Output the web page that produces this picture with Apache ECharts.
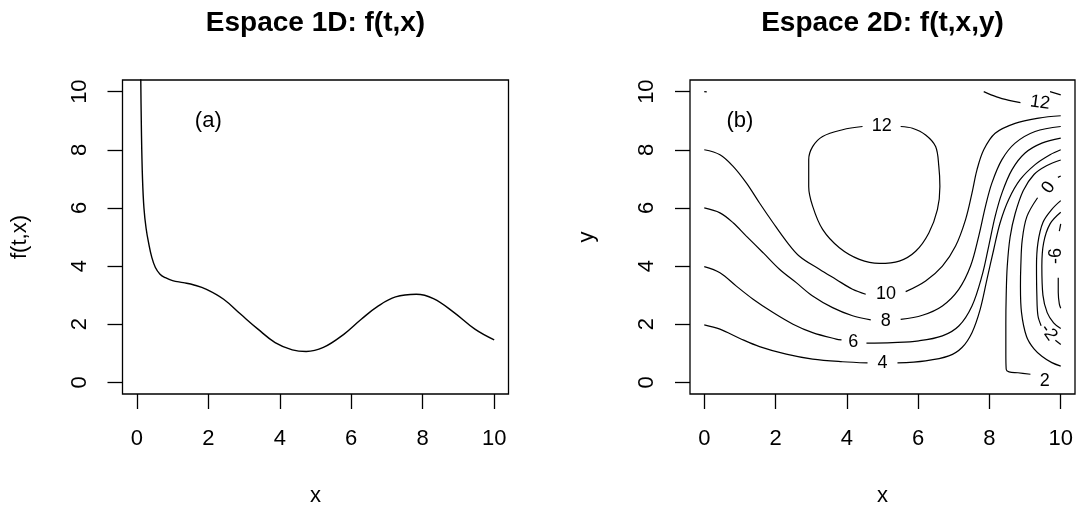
<!DOCTYPE html>
<html><head><meta charset="utf-8">
<script src="https://cdn.jsdelivr.net/npm/echarts@6/dist/echarts.min.js"></script>
<style>html,body{margin:0;padding:0;background:#fff}#c{width:1077px;height:513px}</style>
</head><body><div id="c"></div>
<script>
// ---------- data ----------
const xTicks = [0, 2, 4, 6, 8, 10];
const yTicks = [0, 2, 4, 6, 8, 10];

// Panel (a): f(t,x) against x
const curveX = [0.10, 0.11, 0.13, 0.16, 0.20, 0.26, 0.33, 0.42, 0.52, 0.65, 0.80, 1.00, 1.30, 1.60, 1.95, 2.43, 2.91, 3.39, 3.87, 4.35, 4.74, 5.22, 5.80, 6.28, 6.76, 7.24, 7.82, 8.30, 8.88, 9.46, 10.0];
const curveF = [12.0, 10.6, 8.6, 7.0, 6.0, 5.3, 4.8, 4.3, 3.95, 3.72, 3.6, 3.5, 3.43, 3.35, 3.2, 2.86, 2.34, 1.83, 1.37, 1.12, 1.06, 1.2, 1.66, 2.17, 2.63, 2.94, 3.03, 2.88, 2.4, 1.83, 1.46];

// Panel (b): contour lines of f(t,x,y), one list of segments per level (x, y in data units)
const level12 = [
  [[5.51,8.80],[5.84,8.74],[6.21,8.51],[6.49,8.11],[6.58,7.43],[6.61,6.74],[6.54,5.94],[6.30,5.14],[5.93,4.51],[5.47,4.17],[4.91,4.09],[4.35,4.23],[3.79,4.63],[3.32,5.26],[3.04,6.06],[2.93,6.74],[2.93,7.66],[3.04,8.11],[3.32,8.46],[3.88,8.69],[4.44,8.80]],
  [[7.84,10.0],[8.20,9.82],[8.55,9.70],[8.87,9.62]],
  [[9.70,10.0],[10.0,9.89]],
  [[0.0,10.0],[0.07,9.99]]
];
const level10 = [
  [[0,8.0],[0.44,7.83],[0.81,7.43],[1.18,6.86],[1.55,6.17],[1.93,5.49],[2.30,4.86],[2.67,4.34],[3.23,3.89],[3.70,3.54],[4.16,3.20],[4.53,3.03]],
  [[5.65,3.12],[6.21,3.49],[6.68,4.0],[7.05,4.69],[7.33,5.6],[7.51,6.51],[7.65,7.31],[7.84,8.0],[8.16,8.57],[8.72,8.91],[9.38,9.09],[10,9.17]]
];
const level8 = [
  [[0,6.0],[0.44,5.83],[0.81,5.49],[1.18,5.03],[1.65,4.46],[2.11,3.89],[2.58,3.43],[3.04,2.97],[3.60,2.57],[4.16,2.29],[4.67,2.15]],
  [[5.51,2.17],[6.12,2.31],[6.68,2.63],[7.14,3.2],[7.47,4.0],[7.70,5.03],[7.89,6.06],[8.07,6.86],[8.35,7.66],[8.72,8.23],[9.28,8.63],[10,8.8]]
];
const level6 = [
  [[0,3.98],[0.44,3.77],[0.90,3.31],[1.37,2.86],[1.93,2.40],[2.49,2.0],[3.04,1.71],[3.70,1.49],[3.85,1.46]],
  [[4.55,1.35],[5.28,1.37],[6.02,1.43],[6.68,1.6],[7.14,1.94],[7.51,2.63],[7.79,3.66],[7.98,4.69],[8.16,5.71],[8.35,6.51],[8.63,7.31],[9.0,7.89],[9.47,8.23],[10,8.4]]
];
const level4 = [
  [[0,1.98],[0.44,1.83],[1.0,1.51],[1.55,1.23],[2.30,0.97],[3.04,0.80],[3.88,0.71],[4.58,0.67]],
  [[5.42,0.67],[6.21,0.74],[6.86,0.91],[7.23,1.2],[7.51,1.71],[7.74,2.51],[7.93,3.54],[8.12,4.57],[8.30,5.49],[8.54,6.29],[8.86,6.97],[9.28,7.49],[9.70,7.83],[10,8.0]]
];
const level2 = [
  [[9.15,0.28],[8.8,0.33],[8.55,0.36],[8.47,0.45],[8.46,1.0],[8.46,2.0],[8.47,3.0],[8.50,4.0],[8.58,5.0],[8.72,5.8],[8.95,6.6],[9.25,7.15],[9.6,7.45],[10,7.65]]
];
const level0 = [
  [[9.92,7.05],[10,7.1]],
  [[9.35,6.35],[9.05,5.7],[8.92,4.9],[8.88,4.0],[8.87,3.3],[8.9,2.4],[9.04,1.58],[9.25,1.15],[9.47,0.9],[9.75,0.68],[10,0.56]]
];
const levelM2 = [
  [[10,6.25],[9.75,5.95],[9.5,5.5],[9.36,4.8],[9.32,4.0],[9.33,3.0],[9.36,2.3],[9.45,1.95]],
  [[9.85,1.45],[10,1.3]]
];
const levelM4 = [
  [[10,5.85],[9.7,5.45],[9.52,4.8],[9.47,4.0],[9.5,3.0],[9.62,2.4],[9.8,2.05],[10,1.85]]
];
const levelM6 = [
  [[10,5.45],[9.96,5.2]],
  [[9.93,3.6],[9.93,3.1],[9.96,2.7],[10,2.55]]
];
// contour labels: x, y, text, rotation (deg)
const contourLabels = [
  [4.98, 8.80, '12', 0],
  [9.42, 9.62, '12', -8],
  [5.10, 3.03, '10', 0],
  [5.09, 2.11, '8', 0],
  [4.18, 1.39, '6', 0],
  [5.00, 0.66, '4', 0],
  [9.55, 0.05, '2', 0],
  [9.66, 6.70, '0', 55],
  [9.86, 4.35, '-6', 90],
  [9.66, 1.72, '-2', -55]
];
const panelTags = [[2, 9, '(a)'], [1, 9, '(b)']];
const titles = ['Espace 1D: f(t,x)', 'Espace 2D: f(t,x,y)'];
const xNames = ['x', 'x'];
const yNames = ['f(t,x)', 'y'];

// ---------- chart ----------
const FONT = '"Liberation Sans", Arial, Helvetica, sans-serif';
const chart = echarts.init(document.getElementById('c'), null, {renderer: 'canvas'});
const grids = [
  {left: 122.5, top: 80, width: 386, height: 314},
  {left: 690, top: 80, width: 385, height: 314}
];
function xAx(i) {
  return {
    gridIndex: i, type: 'value', min: -0.4, max: 10.4,
    axisLine: {show: false, onZero: false},
    splitLine: {show: false},
    axisTick: {show: true, inside: false, length: 15, customValues: xTicks, lineStyle: {color: '#000', width: 1.3}},
    axisLabel: {customValues: xTicks, margin: 34, fontSize: 22, color: '#000', fontFamily: FONT},
    name: xNames[i], nameLocation: 'middle', nameGap: 91,
    nameTextStyle: {fontSize: 22, color: '#000', fontFamily: FONT}
  };
}
function yAx(i) {
  return {
    gridIndex: i, type: 'value', min: -0.4, max: 10.4,
    axisLine: {show: false, onZero: false},
    splitLine: {show: false},
    axisTick: {show: true, inside: false, length: 15, customValues: yTicks, lineStyle: {color: '#000', width: 1.3}},
    axisLabel: {customValues: yTicks, margin: 32, rotate: 90, fontSize: 22, color: '#000', fontFamily: FONT},
    name: yNames[i], nameLocation: 'middle', nameGap: 92,
    nameTextStyle: {fontSize: 22, color: '#000', fontFamily: FONT}
  };
}
const labelBase = {show: true, position: 'inside', color: '#000', opacity: 1, textBorderWidth: 0, fontFamily: FONT};
const series = [];
series.push({
  type: 'line', xAxisIndex: 0, yAxisIndex: 0, showSymbol: false, smooth: 0.4, clip: true,
  lineStyle: {color: '#000', width: 1.4}, silent: true,
  data: curveX.map((x, k) => [x, curveF[k]])
});
[level12, level10, level8, level6, level4, level2, level0, levelM2, levelM4, levelM6].forEach(lv => {
  lv.forEach(seg => {
    series.push({
      type: 'line', xAxisIndex: 1, yAxisIndex: 1, showSymbol: false, smooth: 0.35, clip: true,
      lineStyle: {color: '#000', width: 1.2}, silent: true, data: seg
    });
  });
});
series.push({
  type: 'scatter', xAxisIndex: 1, yAxisIndex: 1, symbolSize: 1, silent: true,
  itemStyle: {color: 'rgba(0,0,0,0)', opacity: 1},
  data: contourLabels.map(l => ({value: [l[0], l[1]], label: Object.assign({}, labelBase, {formatter: l[2], rotate: l[3], fontSize: 18})}))
});
panelTags.forEach((t, i) => {
  series.push({
    type: 'scatter', xAxisIndex: i, yAxisIndex: i, symbolSize: 1, silent: true,
    itemStyle: {color: 'rgba(0,0,0,0)', opacity: 1},
    data: [{value: [t[0], t[1]], label: Object.assign({}, labelBase, {formatter: t[2], fontSize: 22})}]
  });
});
chart.setOption({
  animation: false,
  backgroundColor: '#fff',
  grid: grids.map(g => Object.assign({show: true, borderColor: '#000', borderWidth: 1.3, backgroundColor: 'transparent'}, g)),
  xAxis: [xAx(0), xAx(1)],
  yAxis: [yAx(0), yAx(1)],
  graphic: titles.map((t, i) => ({
    type: 'text', x: grids[i].left + grids[i].width / 2, y: 23,
    style: {text: t, font: 'bold 28px ' + FONT, fill: '#000', align: 'center', verticalAlign: 'middle', textAlign: 'center', textVerticalAlign: 'middle'}
  })),
  series: series
});
</script></body></html>
